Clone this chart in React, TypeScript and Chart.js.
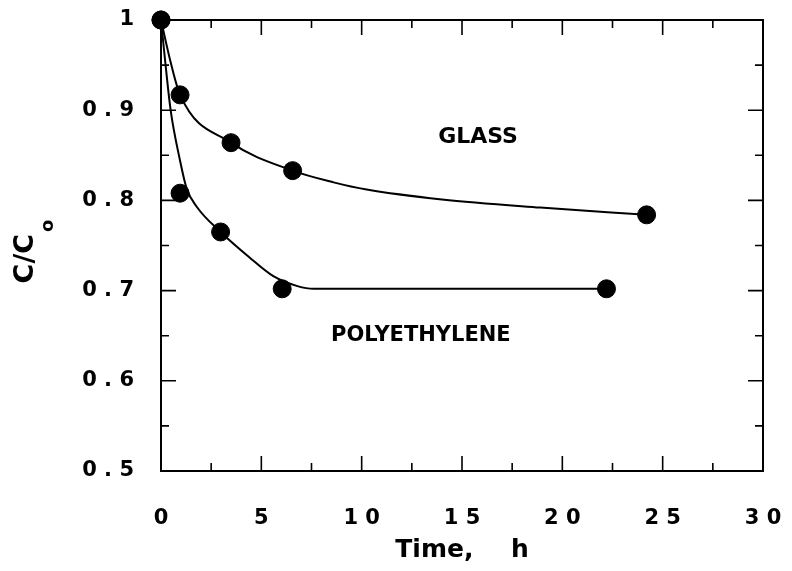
import { useEffect, useRef } from 'react';
import { Chart, registerables } from 'chart.js';

Chart.register(...registerables);

const glassTime = [0, 0.95, 3.49, 6.56, 24.2];
const glassRatio = [1.0, 0.917, 0.864, 0.833, 0.784];
const polyTime = [0, 0.95, 2.97, 6.04, 22.2];
const polyRatio = [1.0, 0.808, 0.765, 0.702, 0.702];

// Drawn trend curves
const glassCurveTime = [0, 0.45, 0.95, 3.49, 6.56, 8.6, 10.25, 14.0, 18.9, 24.2];
const glassCurveRatio = [1.0, 0.956, 0.917, 0.864, 0.833, 0.82, 0.812, 0.801, 0.792, 0.784];
const polyCurveTime = [0, 0.2, 0.48, 0.95, 1.28, 1.78, 2.97, 4.4, 5.6, 6.8, 7.6, 12.0, 22.2];
const polyCurveRatio = [1.0, 0.956, 0.9, 0.844, 0.813, 0.793, 0.765, 0.737, 0.716, 0.705, 0.702, 0.702, 0.702];

const xMajorTicks = [0, 5, 10, 15, 20, 25, 30];
const xMinorTicks = [2.5, 7.5, 12.5, 17.5, 22.5, 27.5];
const yMajorTicks = [0.5, 0.6, 0.7, 0.8, 0.9, 1.0];
const yMinorTicks = [0.55, 0.65, 0.75, 0.85, 0.95];

const seriesNames = ['GLASS', 'POLYETHYLENE'];
const xTitle = 'Time,\u2003\u2002h';
const yTitleMain = 'C/C';
const yTitleSub = 'o';

const FONT = "'DejaVu Sans', 'Liberation Sans', sans-serif";

const framePlugin = {
  id: 'frameTicks',
  beforeDatasetsDraw(chart: any) {
    const { ctx, chartArea: a, scales } = chart;
    const x = scales.x;
    const y = scales.y;
    ctx.save();
    ctx.strokeStyle = '#000';
    ctx.lineWidth = 2;
    ctx.strokeRect(a.left, a.top, a.right - a.left, a.bottom - a.top);
    ctx.lineWidth = 1.6;
    ctx.beginPath();
    const xt = (vals: number[], len: number) => {
      vals.forEach((v) => {
        const p = x.getPixelForValue(v);
        ctx.moveTo(p, a.bottom);
        ctx.lineTo(p, a.bottom - len);
        ctx.moveTo(p, a.top);
        ctx.lineTo(p, a.top + len);
      });
    };
    const yt = (vals: number[], len: number) => {
      vals.forEach((v) => {
        const p = y.getPixelForValue(v);
        ctx.moveTo(a.left, p);
        ctx.lineTo(a.left + len, p);
        ctx.moveTo(a.right, p);
        ctx.lineTo(a.right - len, p);
      });
    };
    xt(xMajorTicks, 15);
    xt(xMinorTicks, 8);
    yt(yMajorTicks, 15);
    yt(yMinorTicks, 8);
    ctx.stroke();
    ctx.restore();
  },
  afterDraw(chart: any) {
    const { ctx, chartArea: a, scales } = chart;
    const x = scales.x;
    const y = scales.y;
    ctx.save();
    ctx.fillStyle = '#000';
    ctx.textAlign = 'center';
    ctx.textBaseline = 'middle';
    ctx.font = `bold 22px ${FONT}`;
    ctx.fillText(seriesNames[0], x.getPixelForValue(15.8), y.getPixelForValue(0.87));
    ctx.font = `bold 21px ${FONT}`;
    ctx.fillText(seriesNames[1], x.getPixelForValue(12.95), y.getPixelForValue(0.65));

    // x title
    ctx.font = `bold 25px ${FONT}`;
    ctx.textBaseline = 'alphabetic';
    ctx.fillText(xTitle, (a.left + a.right) / 2, 557);

    // y title, rotated, with subscript o
    ctx.translate(33, (a.top + a.bottom) / 2 + 6);
    ctx.rotate(-Math.PI / 2);
    ctx.font = `bold 27px ${FONT}`;
    const wMain = ctx.measureText(yTitleMain).width;
    ctx.font = `bold 18px ${FONT}`;
    const wSub = ctx.measureText(yTitleSub).width;
    const start = -(wMain + wSub + 2) / 2;
    ctx.textAlign = 'left';
    ctx.font = `bold 27px ${FONT}`;
    ctx.fillText(yTitleMain, start, 0);
    ctx.font = `bold 18px ${FONT}`;
    ctx.fillText(yTitleSub, start + wMain + 2, 20);
    ctx.restore();
  },
};

export default function App() {
  const ref = useRef<HTMLCanvasElement | null>(null);
  useEffect(() => {
    document.body.style.margin = '0';
    if (!ref.current) return;
    const mk = (xs: number[], ys: number[]) => xs.map((t, i) => ({ x: t, y: ys[i] }));
    const curve = (label: string, data: any) => ({
      label,
      data,
      borderColor: '#000',
      backgroundColor: '#000',
      borderWidth: 2,
      pointRadius: 0,
      pointHoverRadius: 0,
      cubicInterpolationMode: 'monotone' as const,
      fill: false,
      clip: false as any,
      order: 2,
    });
    const marks = (label: string, data: any) => ({
      label,
      data,
      showLine: false,
      borderColor: '#000',
      backgroundColor: '#000',
      pointRadius: 9,
      pointHoverRadius: 9,
      pointBorderWidth: 1,
      pointBackgroundColor: '#000',
      pointBorderColor: '#000',
      fill: false,
      clip: false as any,
      order: 1,
    });
    const chart = new Chart(ref.current, {
      type: 'line',
      data: {
        datasets: [
          curve(seriesNames[0] + ' curve', mk(glassCurveTime, glassCurveRatio)),
          curve(seriesNames[1] + ' curve', mk(polyCurveTime, polyCurveRatio)),
          marks(seriesNames[0], mk(glassTime, glassRatio)),
          marks(seriesNames[1], mk(polyTime, polyRatio)),
        ],
      },
      plugins: [framePlugin],
      options: {
        animation: false,
        responsive: false,
        maintainAspectRatio: false,
        devicePixelRatio: 1,
        layout: { padding: { top: 20, right: 29, bottom: 0, left: 0 } },
        plugins: {
          legend: { display: false },
          tooltip: { enabled: false },
          title: { display: false },
        },
        scales: {
          x: {
            type: 'linear',
            min: 0,
            max: 30,
            grid: { display: false },
            border: { display: false },
            afterFit: (s: any) => {
              s.height = 100;
              s.paddingLeft = 0;
              s.paddingRight = 0;
            },
            afterBuildTicks: (s: any) => {
              s.ticks = xMajorTicks.map((v) => ({ value: v }));
            },
            ticks: {
              color: '#000',
              padding: 27,
              maxRotation: 0,
              font: { family: FONT, weight: 'bold', size: 21 },
              callback: (v: any) => String(v).split('').join(' '),
            },
          },
          y: {
            type: 'linear',
            min: 0.5,
            max: 1,
            grid: { display: false },
            border: { display: false },
            afterFit: (s: any) => {
              s.width = 161;
              s.paddingTop = 0;
              s.paddingBottom = 0;
            },
            afterBuildTicks: (s: any) => {
              s.ticks = yMajorTicks.map((v) => ({ value: v }));
            },
            ticks: {
              color: '#000',
              padding: 19,
              font: { family: FONT, weight: 'bold', size: 21 },
              callback: (v: any) => {
                const n = Number(v);
                if (Math.abs(n - 1) < 1e-9) return '1';
                return n.toFixed(1).split('').join(' ');
              },
            },
          },
        },
      } as any,
    });
    return () => chart.destroy();
  }, []);
  return (
    <canvas
      ref={ref}
      width={792}
      height={571}
      style={{ display: 'block', width: 792, height: 571 }}
    />
  );
}
